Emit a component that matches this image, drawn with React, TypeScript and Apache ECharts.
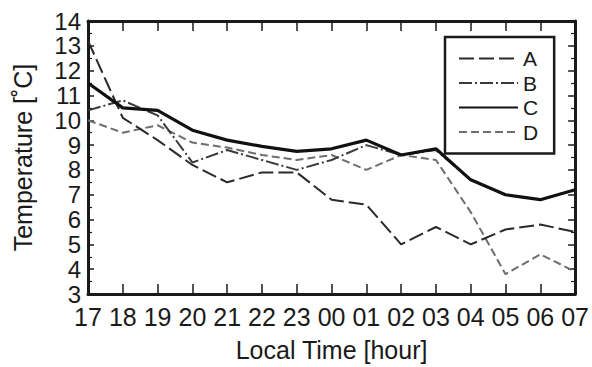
import React, { useEffect, useRef } from "react";
import * as echarts from "echarts";

const hours = ["17", "18", "19", "20", "21", "22", "23", "00", "01", "02", "03", "04", "05", "06", "07"];
const seriesA = [13.2, 10.1, 9.2, 8.2, 7.5, 7.9, 7.9, 6.8, 6.6, 5.0, 5.7, 5.0, 5.6, 5.8, 5.5];
const seriesB = [10.4, 10.8, 10.2, 8.3, 8.8, 8.4, 8.0, 8.4, 9.0, 8.6, 8.8, 7.6, 7.0, 6.8, 7.2];
const seriesC = [11.5, 10.5, 10.4, 9.6, 9.2, 8.95, 8.75, 8.85, 9.2, 8.6, 8.85, 7.6, 7.0, 6.8, 7.2];
const seriesD = [10.0, 9.5, 9.8, 9.1, 8.9, 8.6, 8.4, 8.6, 8.0, 8.6, 8.4, 6.3, 3.8, 4.6, 3.9];
const yMin = 3;
const yMax = 14;

const FONT = "'Liberation Sans', Arial, Helvetica, sans-serif";
const INK = "#1a1a1a";

export default function App() {
  const ref = useRef<HTMLDivElement>(null);
  useEffect(() => {
    const chart = echarts.init(ref.current!, null, { renderer: "svg" });
    const axisLine = { show: true, lineStyle: { color: INK, width: 3 } };
    chart.setOption({
      animation: false,
      backgroundColor: "#ffffff",
      textStyle: { fontFamily: FONT, color: INK },
      grid: { left: 88, right: 16, top: 21, bottom: 73, containLabel: false },
      legend: {
        left: 445,
        top: 37,
        orient: "vertical",
        data: ["A", "B", "C", "D"],
        backgroundColor: "#ffffff",
        borderColor: INK,
        borderWidth: 2.5,
        borderRadius: 0,
        padding: [11, 16, 11, 13],
        itemWidth: 59,
        itemHeight: 14,
        itemGap: 3.5,
        itemTextGap: 12,
        itemStyle: { opacity: 0 },
        textStyle: { fontFamily: FONT, fontSize: 21, color: INK, lineHeight: 16 },
      },
      xAxis: [
        {
          type: "category",
          data: hours,
          boundaryGap: false,
          position: "bottom",
          axisLine,
          axisTick: { show: true, inside: true, length: 10, lineStyle: { color: INK, width: 1.5 } },
          axisLabel: { fontFamily: FONT, fontSize: 25, lineHeight: 24, color: INK, margin: 11, interval: 0 },
          splitLine: { show: false },
          name: "Local Time [hour]",
          nameLocation: "middle",
          nameGap: 43,
          nameTextStyle: { fontFamily: FONT, fontSize: 25, color: INK },
        },
        {
          type: "category",
          data: hours,
          boundaryGap: false,
          position: "top",
          axisLine,
          axisTick: { show: true, inside: true, length: 10, lineStyle: { color: INK, width: 1.5 } },
          axisLabel: { show: false },
          splitLine: { show: false },
        },
      ],
      yAxis: [
        {
          type: "value",
          min: yMin,
          max: yMax,
          interval: 1,
          position: "left",
          axisLine,
          axisTick: { show: true, inside: true, length: 6, lineStyle: { color: INK, width: 1.5 } },
          minorTick: { show: true, splitNumber: 2, length: 4, lineStyle: { color: INK, width: 1.2 } },
          axisLabel: { fontFamily: FONT, fontSize: 24, lineHeight: 20, color: INK, margin: 7 },
          splitLine: { show: false },
          name: "Temperature [˚C]",
          nameLocation: "middle",
          nameGap: 53,
          nameRotate: 90,
          nameTextStyle: { fontFamily: FONT, fontSize: 25, color: INK },
        },
        {
          type: "value",
          min: yMin,
          max: yMax,
          interval: 1,
          position: "right",
          axisLine,
          axisTick: { show: true, inside: true, length: 7, lineStyle: { color: INK, width: 1.5 } },
          minorTick: { show: true, splitNumber: 2, length: 4, lineStyle: { color: INK, width: 1.2 } },
          axisLabel: { show: false },
          splitLine: { show: false },
        },
      ],
      series: [
        {
          name: "D",
          type: "line",
          data: seriesD,
          symbol: "none",
          lineStyle: { color: "#6e6e6e", width: 2, type: [8, 4] },
          itemStyle: { color: "#6e6e6e" },
          z: 2,
        },
        {
          name: "B",
          type: "line",
          data: seriesB,
          symbol: "none",
          lineStyle: { color: "#3a3a3a", width: 2, type: [13, 3, 2, 3] },
          itemStyle: { color: "#3a3a3a" },
          z: 3,
        },
        {
          name: "A",
          type: "line",
          data: seriesA,
          symbol: "none",
          lineStyle: { color: "#2a2a2a", width: 2, type: [15, 5] },
          itemStyle: { color: "#2a2a2a" },
          z: 4,
        },
        {
          name: "C",
          type: "line",
          data: seriesC,
          symbol: "none",
          lineStyle: { color: "#111111", width: 3.2, type: "solid" },
          itemStyle: { color: "#111111" },
          z: 5,
        },
      ],
    });
    return () => chart.dispose();
  }, []);
  return (
    <div
      ref={ref}
      style={{ position: "absolute", left: 0, top: 0, width: 592, height: 367 }}
    />
  );
}
